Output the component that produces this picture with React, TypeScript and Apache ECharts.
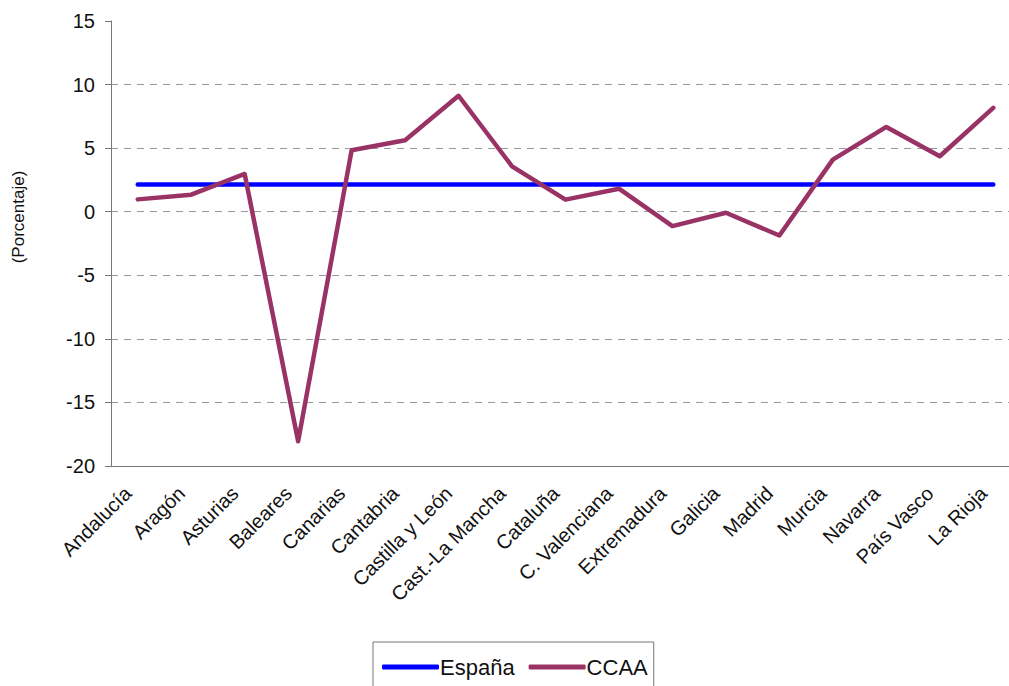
import React, { useEffect, useRef } from "react";
import * as echarts from "echarts";

const categories = [
  "Andalucía", "Aragón", "Asturias", "Baleares", "Canarias", "Cantabria",
  "Castilla y León", "Cast.-La Mancha", "Cataluña", "C. Valenciana",
  "Extremadura", "Galicia", "Madrid", "Murcia", "Navarra", "País Vasco", "La Rioja",
];
const espana = [2.15, 2.15, 2.15, 2.15, 2.15, 2.15, 2.15, 2.15, 2.15, 2.15, 2.15, 2.15, 2.15, 2.15, 2.15, 2.15, 2.15];
const ccaa = [0.97, 1.34, 2.97, -18.05, 4.83, 5.62, 9.12, 3.57, 0.95, 1.81, -1.13, -0.08, -1.87, 4.1, 6.67, 4.36, 8.17];
const yMin = -20;
const yMax = 15;
const yStep = 5;

const FONT = "'Liberation Sans', Arial, Helvetica, sans-serif";

export default function App() {
  const ref = useRef<HTMLDivElement>(null);
  useEffect(() => {
    if (!ref.current) return;
    const chart = echarts.init(ref.current, undefined, { renderer: "svg" });
    chart.setOption({
      animation: false,
      backgroundColor: "#ffffff",
      textStyle: { fontFamily: FONT },
      grid: { left: 111, top: 21, bottom: 220, right: 10, containLabel: false },
      xAxis: {
        type: "category",
        data: categories,
        boundaryGap: true,
        axisLine: { show: true, onZero: false, lineStyle: { color: "#777", width: 1 } },
        axisTick: { show: false },
        axisLabel: {
          rotate: 45,
          interval: 0,
          margin: 14,
          padding: [0, 14, 0, 0],
          fontSize: 20,
          color: "#111",
          fontFamily: FONT,
        },
        splitLine: { show: false },
      },
      yAxis: {
        type: "value",
        min: yMin,
        max: yMax,
        interval: yStep,
        axisLine: { show: true, lineStyle: { color: "#777", width: 1 } },
        axisTick: { show: true, length: 6, lineStyle: { color: "#777" } },
        axisLabel: { fontSize: 20, color: "#111", margin: 16, fontFamily: FONT },
        splitLine: {
          show: true,
          showMinLine: false,
          showMaxLine: false,
          lineStyle: { color: "#9a9a9a", type: [7, 6], width: 1 },
        },
      },
      legend: {
        top: 642,
        left: 373,
        orient: "horizontal",
        icon: "roundRect",
        itemWidth: 57,
        itemHeight: 5,
        itemGap: 14,
        padding: [14, 6, 14, 9],
        borderColor: "#777",
        borderWidth: 1,
        textStyle: { fontSize: 22, color: "#111", fontFamily: FONT, padding: [0, 0, 0, -4] },
        data: ["España", "CCAA"],
      },
      graphic: [
        {
          type: "text",
          x: 18,
          y: 217,
          rotation: Math.PI / 2,
          style: {
            text: "(Porcentaje)",
            fontSize: 17,
            fontFamily: FONT,
            fill: "#111",
            align: "center",
            verticalAlign: "middle",
          },
        },
      ],
      series: [
        {
          name: "España",
          type: "line",
          data: espana,
          showSymbol: false,
          symbol: "none",
          lineStyle: { color: "#0000ff", width: 4.5, cap: "round" },
          itemStyle: { color: "#0000ff" },
          z: 2,
        },
        {
          name: "CCAA",
          type: "line",
          data: ccaa,
          showSymbol: false,
          symbol: "none",
          lineStyle: { color: "#993366", width: 4.5, cap: "round", join: "round" },
          itemStyle: { color: "#993366" },
          z: 3,
        },
      ],
    });
    return () => chart.dispose();
  }, []);
  return (
    <div style={{ position: "absolute", left: 0, top: 0, width: 1009, height: 686, overflow: "hidden" }}>
      <div ref={ref} style={{ width: 1030, height: 686 }} />
    </div>
  );
}
